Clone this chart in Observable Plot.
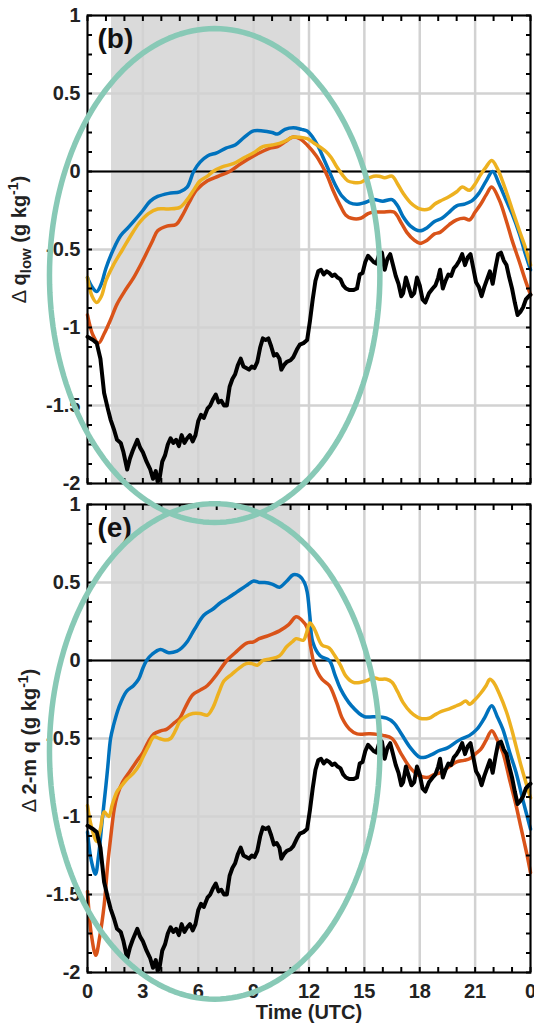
<!DOCTYPE html>
<html><head><meta charset="utf-8">
<script src="https://cdn.jsdelivr.net/npm/d3@7"></script>
<script src="https://cdn.jsdelivr.net/npm/@observablehq/plot@0.6"></script>
<style>html,body{margin:0;padding:0;background:#fff;overflow:hidden}</style>
</head><body><div id="chart"></div>
<script>
// ---- ticks / categories ----
const hourTicks = [0, 3, 6, 9, 12, 15, 18, 21, 24];
const hourMinorTicks = [0,1,2,3,4,5,6,7,8,9,10,11,12,13,14,15,16,17,18,19,20,21,22,23,24];
const valueTicks = [-2, -1.5, -1, -0.5, 0, 0.5, 1];
const valueMinorTicks = [-2,-1.875,-1.75,-1.625,-1.5,-1.375,-1.25,-1.125,-1,-0.875,-0.75,-0.625,-0.5,-0.375,-0.25,-0.125,0,0.125,0.25,0.375,0.5,0.625,0.75,0.875,1];
const panels = ["b", "e"];
const panelLabels = ["(b)", "(e)"];
const daytime = [{start: 1.3, end: 11.55}];

// ---- series: [hour, value] ----
const obsBlack = [[0,-1.06],[0.3,-1.08],[0.5,-1.10],[0.7,-1.20],[0.9,-1.42],[1.1,-1.52],[1.25,-1.59],[1.45,-1.66],[1.6,-1.72],[1.8,-1.74],[1.95,-1.80],[2.15,-1.91],[2.3,-1.84],[2.45,-1.79],[2.7,-1.72],[2.85,-1.77],[3.0,-1.80],[3.2,-1.86],[3.4,-1.91],[3.55,-1.97],[3.7,-1.92],[3.8,-1.99],[3.9,-1.97],[4.05,-1.86],[4.2,-1.82],[4.35,-1.75],[4.5,-1.71],[4.65,-1.74],[4.8,-1.72],[4.95,-1.76],[5.1,-1.69],[5.25,-1.74],[5.4,-1.71],[5.55,-1.69],[5.7,-1.73],[5.85,-1.69],[6.0,-1.60],[6.15,-1.56],[6.3,-1.58],[6.5,-1.52],[6.65,-1.50],[6.8,-1.46],[6.95,-1.43],[7.1,-1.48],[7.25,-1.47],[7.4,-1.50],[7.55,-1.50],[7.7,-1.38],[7.85,-1.33],[8.0,-1.30],[8.15,-1.24],[8.3,-1.20],[8.45,-1.25],[8.6,-1.26],[8.75,-1.27],[8.9,-1.25],[9.05,-1.26],[9.2,-1.22],[9.35,-1.13],[9.5,-1.07],[9.65,-1.08],[9.8,-1.07],[9.95,-1.12],[10.1,-1.18],[10.25,-1.17],[10.4,-1.20],[10.5,-1.27],[10.65,-1.24],[10.8,-1.22],[11.0,-1.21],[11.15,-1.19],[11.35,-1.14],[11.5,-1.11],[11.7,-1.10],[11.9,-1.08],[12.05,-0.96],[12.2,-0.82],[12.35,-0.70],[12.5,-0.64],[12.65,-0.63],[12.8,-0.66],[12.95,-0.64],[13.1,-0.65],[13.25,-0.67],[13.4,-0.66],[13.55,-0.68],[13.7,-0.69],[13.85,-0.73],[14.0,-0.75],[14.2,-0.76],[14.4,-0.76],[14.6,-0.75],[14.75,-0.66],[14.9,-0.65],[15.05,-0.58],[15.2,-0.54],[15.35,-0.56],[15.5,-0.58],[15.65,-0.59],[15.8,-0.53],[15.95,-0.52],[16.1,-0.63],[16.25,-0.56],[16.4,-0.53],[16.55,-0.60],[16.7,-0.67],[16.85,-0.72],[17.0,-0.80],[17.1,-0.78],[17.25,-0.68],[17.4,-0.74],[17.55,-0.80],[17.7,-0.78],[17.85,-0.68],[18.0,-0.73],[18.15,-0.82],[18.3,-0.84],[18.5,-0.78],[18.7,-0.75],[18.85,-0.73],[19.0,-0.68],[19.1,-0.63],[19.25,-0.75],[19.4,-0.70],[19.55,-0.66],[19.7,-0.67],[19.85,-0.62],[20.0,-0.60],[20.15,-0.57],[20.3,-0.53],[20.45,-0.60],[20.6,-0.55],[20.75,-0.53],[20.9,-0.62],[21.05,-0.71],[21.2,-0.74],[21.35,-0.80],[21.5,-0.74],[21.65,-0.69],[21.8,-0.64],[21.95,-0.72],[22.1,-0.62],[22.25,-0.53],[22.4,-0.52],[22.55,-0.57],[22.7,-0.60],[22.85,-0.68],[23.0,-0.75],[23.15,-0.84],[23.3,-0.92],[23.45,-0.90],[23.6,-0.87],[23.75,-0.82],[23.9,-0.80],[24.0,-0.79]];

const qlowBlue = [[0,-0.68],[0.25,-0.74],[0.5,-0.77],[0.75,-0.72],[1.0,-0.62],[1.4,-0.5],[1.8,-0.41],[2.2,-0.36],[2.5,-0.32],[3.0,-0.25],[3.4,-0.19],[3.8,-0.16],[4.4,-0.14],[5.0,-0.13],[5.4,-0.1],[5.75,0.0],[6.1,0.06],[6.5,0.1],[7.0,0.12],[7.5,0.15],[8.0,0.17],[8.5,0.22],[9.0,0.26],[9.5,0.26],[10.0,0.25],[10.3,0.24],[10.7,0.27],[11.15,0.28],[11.6,0.27],[11.9,0.26],[12.2,0.22],[12.5,0.16],[12.8,0.08],[13.1,0.0],[13.4,-0.08],[13.8,-0.16],[14.2,-0.2],[14.6,-0.21],[15.0,-0.2],[15.5,-0.18],[16.0,-0.19],[16.5,-0.18],[16.8,-0.22],[17.1,-0.29],[17.5,-0.35],[18.0,-0.38],[18.4,-0.36],[18.8,-0.32],[19.2,-0.3],[19.6,-0.26],[20.0,-0.22],[20.4,-0.21],[20.8,-0.19],[21.2,-0.14],[21.6,-0.06],[21.95,0.0],[22.3,-0.08],[22.7,-0.19],[23.0,-0.27],[23.4,-0.4],[23.7,-0.52],[24.0,-0.63]];
const qlowRed = [[0,-0.92],[0.3,-1.05],[0.6,-1.10],[0.9,-1.04],[1.25,-0.95],[1.6,-0.85],[2.0,-0.77],[2.5,-0.68],[3.0,-0.57],[3.5,-0.45],[3.8,-0.38],[4.3,-0.35],[4.8,-0.34],[5.1,-0.29],[5.5,-0.2],[5.9,-0.12],[6.5,-0.06],[7.1,-0.03],[7.7,0.0],[8.3,0.05],[9.0,0.1],[9.5,0.13],[9.9,0.15],[10.3,0.16],[10.7,0.19],[11.1,0.22],[11.5,0.21],[11.9,0.17],[12.4,0.1],[12.7,0.04],[13.0,-0.03],[13.3,-0.12],[13.7,-0.22],[14.0,-0.28],[14.3,-0.3],[14.8,-0.3],[15.2,-0.27],[15.5,-0.26],[16.0,-0.26],[16.6,-0.26],[17.0,-0.33],[17.3,-0.39],[17.7,-0.44],[18.0,-0.46],[18.4,-0.44],[18.8,-0.4],[19.1,-0.39],[19.6,-0.34],[20.0,-0.31],[20.4,-0.3],[20.7,-0.31],[21.0,-0.26],[21.3,-0.21],[21.6,-0.15],[21.9,-0.1],[22.3,-0.18],[22.7,-0.32],[23.0,-0.44],[23.4,-0.58],[23.7,-0.69],[24.0,-0.79]];
const qlowYellow = [[0,-0.68],[0.25,-0.8],[0.5,-0.84],[0.75,-0.8],[1.0,-0.7],[1.4,-0.6],[1.9,-0.5],[2.3,-0.42],[2.8,-0.33],[3.3,-0.27],[3.8,-0.24],[4.4,-0.24],[5.0,-0.23],[5.4,-0.18],[5.8,-0.11],[6.1,-0.06],[6.5,-0.03],[6.8,0.0],[7.3,0.03],[7.9,0.05],[8.5,0.09],[9.0,0.12],[9.5,0.16],[10.0,0.17],[10.4,0.18],[10.8,0.2],[11.1,0.22],[11.5,0.22],[11.9,0.21],[12.3,0.18],[12.9,0.13],[13.2,0.09],[13.5,0.03],[13.8,-0.02],[14.1,-0.06],[14.4,-0.07],[14.8,-0.07],[15.1,-0.05],[15.5,-0.03],[15.8,-0.03],[16.1,-0.04],[16.5,-0.03],[16.8,-0.08],[17.1,-0.14],[17.5,-0.2],[18.0,-0.24],[18.5,-0.24],[18.8,-0.21],[19.1,-0.19],[19.6,-0.16],[20.0,-0.13],[20.3,-0.1],[20.7,-0.12],[21.0,-0.08],[21.3,-0.02],[21.6,0.03],[21.9,0.07],[22.2,0.02],[22.6,-0.1],[23.0,-0.24],[23.4,-0.38],[23.7,-0.48],[24.0,-0.6]];

const q2mBlue = [[0,-1.1],[0.2,-1.28],[0.43,-1.37],[0.6,-1.25],[0.8,-1.02],[1.0,-0.8],[1.1,-0.68],[1.25,-0.5],[1.4,-0.42],[1.7,-0.3],[2.1,-0.2],[2.5,-0.16],[2.77,-0.12],[3.0,-0.05],[3.2,0.0],[3.5,0.04],[3.95,0.07],[4.4,0.05],[4.85,0.06],[5.1,0.08],[5.4,0.12],[5.8,0.2],[6.3,0.29],[6.8,0.33],[7.2,0.37],[7.6,0.4],[8.1,0.44],[8.6,0.48],[9.0,0.51],[9.3,0.5],[9.6,0.5],[10.0,0.49],[10.4,0.47],[10.8,0.51],[11.15,0.55],[11.5,0.54],[11.75,0.5],[11.9,0.44],[12.05,0.28],[12.2,0.12],[12.6,0.03],[13.1,0.0],[13.4,-0.09],[13.7,-0.18],[14.3,-0.29],[15.0,-0.36],[15.5,-0.36],[16.2,-0.37],[16.6,-0.4],[17.0,-0.47],[17.5,-0.56],[18.0,-0.62],[18.3,-0.62],[18.7,-0.6],[19.0,-0.58],[19.5,-0.56],[20.0,-0.52],[20.3,-0.5],[20.7,-0.48],[21.1,-0.44],[21.5,-0.37],[21.9,-0.29],[22.2,-0.36],[22.5,-0.44],[22.9,-0.6],[23.2,-0.71],[23.6,-0.9],[24.0,-1.08]];
const q2mRed = [[0,-1.48],[0.2,-1.75],[0.45,-1.89],[0.65,-1.78],[0.9,-1.57],[1.1,-1.3],[1.25,-1.14],[1.45,-0.95],[1.6,-0.87],[1.9,-0.78],[2.3,-0.71],[2.7,-0.64],[3.0,-0.59],[3.3,-0.52],[3.6,-0.47],[4.0,-0.45],[4.3,-0.44],[4.7,-0.4],[5.0,-0.37],[5.3,-0.3],[5.7,-0.22],[6.1,-0.19],[6.5,-0.16],[7.0,-0.09],[7.55,0.0],[8.0,0.05],[8.6,0.11],[9.0,0.12],[9.3,0.14],[9.8,0.16],[10.4,0.19],[10.9,0.23],[11.3,0.28],[11.6,0.26],[11.9,0.21],[12.1,0.08],[12.3,-0.03],[12.7,-0.12],[13.1,-0.16],[13.5,-0.27],[13.8,-0.37],[14.2,-0.44],[14.6,-0.47],[15.3,-0.47],[16.0,-0.48],[16.5,-0.5],[17.0,-0.6],[17.5,-0.69],[18.0,-0.74],[18.4,-0.75],[18.8,-0.73],[19.1,-0.72],[19.6,-0.68],[20.0,-0.65],[20.4,-0.64],[20.7,-0.63],[21.0,-0.6],[21.3,-0.57],[21.6,-0.51],[21.9,-0.45],[22.2,-0.51],[22.5,-0.59],[22.9,-0.78],[23.2,-0.92],[23.5,-1.08],[23.8,-1.24],[24.0,-1.36]];
const q2mYellow = [[0,-0.93],[0.2,-1.06],[0.5,-1.16],[0.7,-1.08],[0.9,-0.97],[1.15,-1.0],[1.35,-0.92],[1.6,-0.84],[1.8,-0.81],[2.15,-0.76],[2.5,-0.72],[2.8,-0.67],[3.0,-0.62],[3.3,-0.55],[3.6,-0.49],[3.9,-0.5],[4.2,-0.51],[4.5,-0.5],[4.8,-0.44],[5.0,-0.39],[5.3,-0.36],[5.7,-0.34],[6.1,-0.34],[6.5,-0.35],[6.8,-0.3],[7.1,-0.21],[7.4,-0.13],[7.8,-0.09],[8.2,-0.05],[8.6,-0.02],[8.9,-0.02],[9.2,-0.03],[9.5,0.0],[9.9,0.01],[10.4,0.03],[10.8,0.09],[11.1,0.12],[11.3,0.14],[11.7,0.13],[11.85,0.17],[12.05,0.24],[12.3,0.2],[12.7,0.1],[13.1,0.08],[13.4,0.03],[13.7,-0.03],[14.0,-0.1],[14.4,-0.14],[14.8,-0.14],[15.1,-0.13],[15.5,-0.11],[15.8,-0.12],[16.2,-0.12],[16.5,-0.14],[16.8,-0.2],[17.1,-0.27],[17.5,-0.33],[18.0,-0.37],[18.5,-0.37],[18.8,-0.35],[19.1,-0.33],[19.6,-0.31],[20.0,-0.29],[20.2,-0.28],[20.5,-0.26],[20.7,-0.28],[21.0,-0.25],[21.3,-0.21],[21.6,-0.16],[21.8,-0.12],[22.0,-0.14],[22.3,-0.21],[22.7,-0.33],[23.0,-0.45],[23.5,-0.68],[24.0,-0.88]];

// highlight ellipses (centre and radii in data units)
const highlightEllipses = [
  {panel: "b", cx: 6.89, cy: -0.667, rx: 8.95, ry: 1.583},
  {panel: "e", cx: 6.89, cy: -0.583, rx: 8.95, ry: 1.588}
];

// ---- build tables ----
const seriesDefs = [
  {panel: "b", name: "blue", pts: qlowBlue},
  {panel: "b", name: "red", pts: qlowRed},
  {panel: "b", name: "yellow", pts: qlowYellow},
  {panel: "e", name: "blue", pts: q2mBlue},
  {panel: "e", name: "red", pts: q2mRed},
  {panel: "e", name: "yellow", pts: q2mYellow}
];
const colorOf = {blue: "#0072BD", red: "#D95319", yellow: "#EDB120"};
const rows = seriesDefs.flatMap(s => s.pts.map(([h, v]) => ({panel: s.panel, series: s.panel + s.name, color: s.name, h, v})));
const obsRows = panels.flatMap(p => obsBlack.map(([h, v]) => ({panel: p, h, v})));
const ellipseRows = highlightEllipses.flatMap(e => d3.range(0, 361, 2).map(a => {
  const t = a * Math.PI / 180;
  return {panel: e.panel, h: e.cx + e.rx * Math.cos(t), v: e.cy + e.ry * Math.sin(t)};
}));
const panelText = panels.map((p, i) => ({panel: p, label: panelLabels[i]}));

const FONT = "Liberation Sans, Arial, Helvetica, sans-serif";
const lineFor = name => Plot.line(rows.filter(r => r.color === name), {
  x: "h", y: "v", fy: "panel", z: "series", stroke: colorOf[name], strokeWidth: 3.5, curve: "catmull-rom"
});

const chart = Plot.plot({
  width: 534,
  height: 1025,
  marginLeft: 87,
  marginRight: 4,
  marginTop: 15,
  marginBottom: 53,
  style: {fontFamily: FONT, fontWeight: "bold", fontSize: "20px", background: "#fff", overflow: "visible", color: "#000"},
  x: {domain: [0, 24], axis: null},
  y: {domain: [-2, 1], axis: null},
  fy: {domain: panels, axis: null, paddingInner: 0.043, paddingOuter: 0},
  marks: [
    Plot.rect(daytime, {x1: "start", x2: "end", fill: "#dadada"}),
    Plot.gridX(hourTicks, {stroke: "#d2d2d2", strokeOpacity: 1, strokeWidth: 2.5, facetAnchor: null}),
    Plot.gridY(valueTicks, {stroke: "#d2d2d2", strokeOpacity: 1, strokeWidth: 2.5, facetAnchor: null}),
    Plot.ruleY([0], {stroke: "#000", strokeWidth: 2}),
    lineFor("blue"),
    lineFor("red"),
    lineFor("yellow"),
    Plot.line(obsRows, {x: "h", y: "v", fy: "panel", stroke: "#000", strokeWidth: 4}),
    Plot.frame({stroke: "#000", strokeWidth: 2}),
    Plot.axisX(hourMinorTicks, {anchor: "bottom", tickSize: -5, strokeWidth: 2, fill: "none", facetAnchor: null}),
    Plot.axisX(hourMinorTicks, {anchor: "top", tickSize: -5, strokeWidth: 2, fill: "none", facetAnchor: null}),
    Plot.axisY(valueMinorTicks, {anchor: "left", tickSize: -5, strokeWidth: 2, fill: "none", facetAnchor: null}),
    Plot.axisY(valueMinorTicks, {anchor: "right", tickSize: -5, strokeWidth: 2, fill: "none", facetAnchor: null}),
    Plot.axisY(valueTicks, {anchor: "left", tickSize: 0, tickPadding: 7, label: null, tickFormat: d => String(d), fontSize: 20, fontWeight: "bold", fill: "#222", facetAnchor: null}),
    Plot.axisX(hourTicks, {anchor: "bottom", tickSize: 0, tickPadding: 11, label: null, tickFormat: d => String(d % 24), fontSize: 20, fontWeight: "bold", fill: "#222"}),
    Plot.text(panelText, {fy: "panel", text: "label", frameAnchor: "top-left", textAnchor: "start", lineAnchor: "top", dx: 10, dy: 13, fontSize: 28, fontWeight: "bold", fill: "#111"}),
    Plot.text([{panel: "b", label: "YLABEL_B"}], {fy: "panel", text: "label", frameAnchor: "left", textAnchor: "middle", rotate: -90, dx: -68, dy: -10, fontSize: 20, fontWeight: "bold", fill: "#222"}),
    Plot.text([{panel: "e", label: "YLABEL_E"}], {fy: "panel", text: "label", frameAnchor: "left", textAnchor: "middle", rotate: -90, dx: -58, dy: 2, fontSize: 20, fontWeight: "bold", fill: "#222"}),
    Plot.text([{panel: "e", label: "Time (UTC)"}], {fy: "panel", text: "label", frameAnchor: "bottom", textAnchor: "middle", lineAnchor: "top", dy: 32, fontSize: 20, fontWeight: "bold", fill: "#222"}),
    Plot.line(ellipseRows, {x: "h", y: "v", fy: "panel", stroke: "#88c9b6", strokeWidth: 5.5})
  ]
});

// rich (sub/superscript) axis titles
const SVGNS = "http://www.w3.org/2000/svg";
function richLabel(el, parts) {
  el.textContent = "";
  for (const p of parts) {
    const t = document.createElementNS(SVGNS, "tspan");
    t.textContent = p.text;
    if (p.dy) t.setAttribute("dy", p.dy);
    if (p.size) t.setAttribute("font-size", p.size);
    if (p.weight) t.setAttribute("font-weight", p.weight);
    el.appendChild(t);
  }
}
chart.querySelectorAll("text").forEach(el => {
  if (el.textContent === "YLABEL_B") {
    richLabel(el, [
      {text: "\u0394 ", weight: "normal"}, {text: "q"},
      {text: "low", size: 15, dy: 5}, {text: " (g kg", dy: -5},
      {text: "-1", size: 14, dy: -8}, {text: ")", dy: 8}
    ]);
  } else if (el.textContent === "YLABEL_E") {
    richLabel(el, [
      {text: "\u0394 ", weight: "normal"}, {text: "2-m q (g kg"},
      {text: "-1", size: 14, dy: -8}, {text: ")", dy: 8}
    ]);
  }
});
document.getElementById("chart").appendChild(chart);
</script>
</body></html>
